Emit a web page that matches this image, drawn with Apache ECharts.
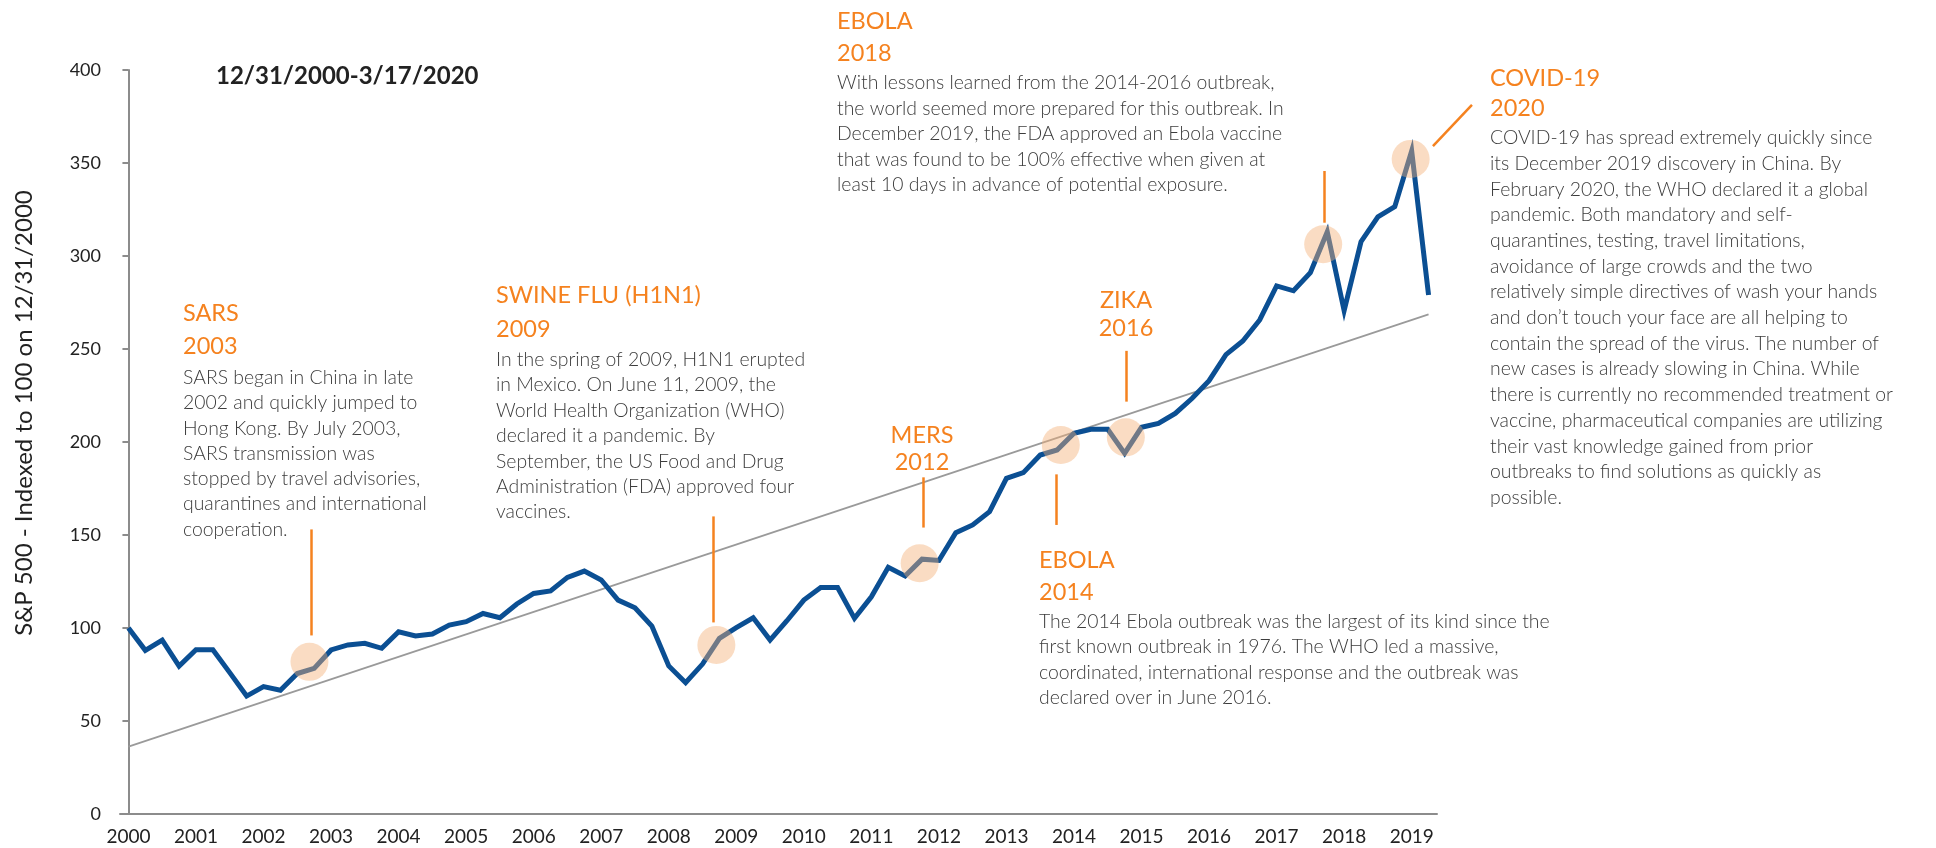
<!DOCTYPE html>
<html>
<head>
<meta charset="utf-8">
<title>S&amp;P 500 through outbreaks</title>
<script src="https://cdn.jsdelivr.net/npm/echarts@6/dist/echarts.min.js"></script>
<style>
  html, body { margin: 0; padding: 0; background: #fff; }
  #chart { width: 1936px; height: 848px; }
</style>
</head>
<body>
<div id="chart"></div>
<script>
// tick labels, one per year; the last year only has two quarters
const years = ['2000', '2001', '2002', '2003', '2004', '2005', '2006', '2007', '2008', '2009',
  '2010', '2011', '2012', '2013', '2014', '2015', '2016', '2017', '2018', '2019'];
const quartersInLastYear = 2;

// S&P 500 indexed to 100, quarterly
const spx = [
  100, 88, 93.5, 79.5, 88.3, 88.3, 76, 63.4, 68.5, 66.5,
  75.5, 78.3, 88.2, 90.9, 91.8, 89.1, 98, 95.7, 96.8, 101.6,
  103.4, 107.8, 105.5, 112.9, 118.6, 119.9, 127.2, 130.6, 125.8, 115,
  110.9, 101, 79.6, 70.6, 80.6, 94.4, 100.2, 105.5, 93.5, 103.9,
  115, 121.8, 121.8, 105.2, 116.8, 132.6, 128, 137, 136.3, 151.2,
  155.4, 162.5, 180.5, 183.5, 193, 195.7, 204.7, 206.8, 206.8, 193.9,
  207.9, 210, 215.4, 223.5, 233, 247, 254.3, 265.6, 283.9, 281.3,
  291, 313, 270.6, 307.7, 321.1, 326.5, 356.5, 279
];

// straight trend line, value at first and last quarter
const trendEnds = [36.2, 268.6];

// outbreak highlights: [quarter position, index level]
const outbreakSpots = [
  [10.72, 81.8], [34.82, 90.9], [46.86, 134.8], [55.22, 198.4],
  [59.07, 202.5], [70.76, 306.3], [75.94, 352.2]
];
// leader strokes from the notes to the highlights
const outbreakLeaders = [
  [[10.82, 153], [10.82, 96]],
  [[34.62, 160], [34.62, 103]],
  [[47.1, 181], [47.1, 154]],
  [[54.96, 182.6], [54.96, 155.4]],
  [[59.11, 249], [59.11, 221.7]],
  [[70.8, 345.7], [70.8, 317.9]],
  [[77.26, 359.1], [79.57, 381.2]]
];

const periodLabel = '12/31/2000-3/17/2020';
const yName = 'S&P 500 - Indexed to 100 on 12/31/2000';

const sarsHead = ['SARS', '2003'];
const sarsBody = [
  'SARS began in China in late',
  '2002 and quickly jumped to',
  'Hong Kong. By July 2003,',
  'SARS transmission was',
  'stopped by travel advisories,',
  'quarantines and international',
  'cooperation.'
];
const fluHead = ['SWINE FLU (H1N1)', '2009'];
const fluBody = [
  'In the spring of 2009, H1N1 erupted',
  'in Mexico. On June 11, 2009, the',
  'World Health Organization (WHO)',
  'declared it a pandemic. By',
  'September, the US Food and Drug',
  'Administration (FDA) approved four',
  'vaccines.'
];
const mersHead = ['MERS', '2012'];
const zikaHead = ['ZIKA', '2016'];
const ebola14Head = ['EBOLA', '2014'];
const ebola14Body = [
  'The 2014 Ebola outbreak was the largest of its kind since the',
  'first known outbreak in 1976. The WHO led a massive,',
  'coordinated, international response and the outbreak was',
  'declared over in June 2016.'
];
const ebola18Head = ['EBOLA', '2018'];
const ebola18Body = [
  'With lessons learned from the 2014-2016 outbreak,',
  'the world seemed more prepared for this outbreak. In',
  'December 2019, the FDA approved an Ebola vaccine',
  'that was found to be 100% effective when given at',
  'least 10 days in advance of potential exposure.'
];
const covidHead = ['COVID-19', '2020'];
const covidBody = [
  'COVID-19 has spread extremely quickly since',
  'its December 2019 discovery in China. By',
  'February 2020, the WHO declared it a global',
  'pandemic. Both mandatory and self-',
  'quarantines, testing, travel limitations,',
  'avoidance of large crowds and the two',
  'relatively simple directives of wash your hands',
  'and don\u2019t touch your face are all helping to',
  'contain the spread of the virus. The number of',
  'new cases is already slowing in China. While',
  'there is currently no recommended treatment or',
  'vaccine, pharmaceutical companies are utilizing',
  'their vast knowledge gained from prior',
  'outbreaks to find solutions as quickly as',
  'possible.'
];

const ORANGE = '#f5821f';
const BLUE = '#0b4f93';
const AXIS = '#8c8c8c';
const FONT = 'Lato, "Open Sans", sans-serif';

const quarters = [];
years.forEach((year, i) => {
  const count = i === years.length - 1 ? quartersInLastYear : 4;
  for (let q = 1; q <= count; q += 1) quarters.push(year + ' Q' + q);
});

function heading(lines, x, y, lineHeight, align) {
  return {
    type: 'text', x, y, z: 100,
    style: {
      text: lines.join('\n'), fill: ORANGE,
      font: '400 23.5px ' + FONT, lineHeight,
      align: align || 'left', textAlign: align || 'left'
    }
  };
}

function body(lines, x, y, lineHeight) {
  return {
    type: 'text', x, y, z: 100,
    style: {
      text: lines.join('\n'), fill: '#3c3c3c',
      font: '300 19.4px ' + FONT, lineHeight
    }
  };
}

const chart = echarts.init(document.getElementById('chart'), null, { renderer: 'canvas' });

chart.setOption({
  animation: false,
  backgroundColor: '#fff',
  grid: { left: 120, right: 499, top: 70, bottom: 34 },
  xAxis: [
    {
      type: 'category', data: quarters, position: 'bottom', boundaryGap: true,
      axisLine: { lineStyle: { color: AXIS, width: 2 } },
      axisTick: { interval: 3, inside: true, length: 6, lineStyle: { color: AXIS, width: 2 } },
      axisLabel: {
        interval: 3, margin: 13, color: '#222', fontSize: 19, fontFamily: FONT,
        formatter: (v) => v.slice(0, 4)
      },
      splitLine: { show: false }
    },
    {
      type: 'category', data: quarters, position: 'bottom', boundaryGap: true,
      axisLine: { show: false },
      axisTick: { interval: 3, inside: false, length: 6, lineStyle: { color: AXIS, width: 2 } },
      axisLabel: { show: false },
      splitLine: { show: false }
    },
    { type: 'value', position: 'bottom', min: -0.5, max: quarters.length - 0.5, show: false }
  ],
  yAxis: {
    type: 'value', min: 0, max: 400, interval: 50,
    name: yName, nameLocation: 'middle', nameRotate: 90, nameGap: 84,
    nameTextStyle: { fontSize: 24, color: '#222', fontFamily: FONT, padding: [0, 0, 0, 58] },
    axisLine: { show: true, lineStyle: { color: AXIS, width: 2 } },
    axisTick: { show: true, length: 6, lineStyle: { color: AXIS, width: 2 } },
    axisLabel: { margin: 19, color: '#222', fontSize: 18, fontFamily: FONT },
    splitLine: { show: false }
  },
  series: [
    {
      type: 'line', xAxisIndex: 2,
      data: [[0, trendEnds[0]], [quarters.length - 1, trendEnds[1]]],
      symbol: 'none', lineStyle: { color: '#9a9a9a', width: 1.8 }, z: 2
    },
    {
      type: 'line', xAxisIndex: 0, data: spx, symbol: 'none',
      lineStyle: { color: BLUE, width: 5, join: 'miter' }, z: 3
    },
    {
      type: 'lines', coordinateSystem: 'cartesian2d', xAxisIndex: 2, yAxisIndex: 0,
      clip: false,
      data: outbreakLeaders.map((c) => ({ coords: c })),
      lineStyle: { color: ORANGE, width: 2.5, opacity: 1 }, z: 4
    },
    {
      type: 'scatter', xAxisIndex: 2, data: outbreakSpots, symbolSize: 38,
      itemStyle: { color: 'rgba(244,176,118,0.55)' }, z: 5
    }
  ],
  graphic: [
    {
      type: 'text', x: 216, y: 64, z: 100,
      style: { text: periodLabel, fill: '#222', font: 'bold 24px ' + FONT }
    },
    heading(sarsHead, 183, 297, 32.7),
    body(sarsBody, 183, 365, 25.3),
    heading(fluHead, 496, 279, 33.3),
    body(fluBody, 496, 347, 25.4),
    heading(mersHead, 922, 422, 26.7, 'center'),
    heading(zikaHead, 1126, 287, 27.6, 'center'),
    heading(ebola14Head, 1039, 545, 31.7),
    body(ebola14Body, 1039, 609, 25.3),
    heading(ebola18Head, 837, 5, 32.5),
    body(ebola18Body, 837, 70, 25.5),
    heading(covidHead, 1490, 64, 29.3),
    body(covidBody, 1490, 125, 25.7)
  ]
});
</script>
</body>
</html>
